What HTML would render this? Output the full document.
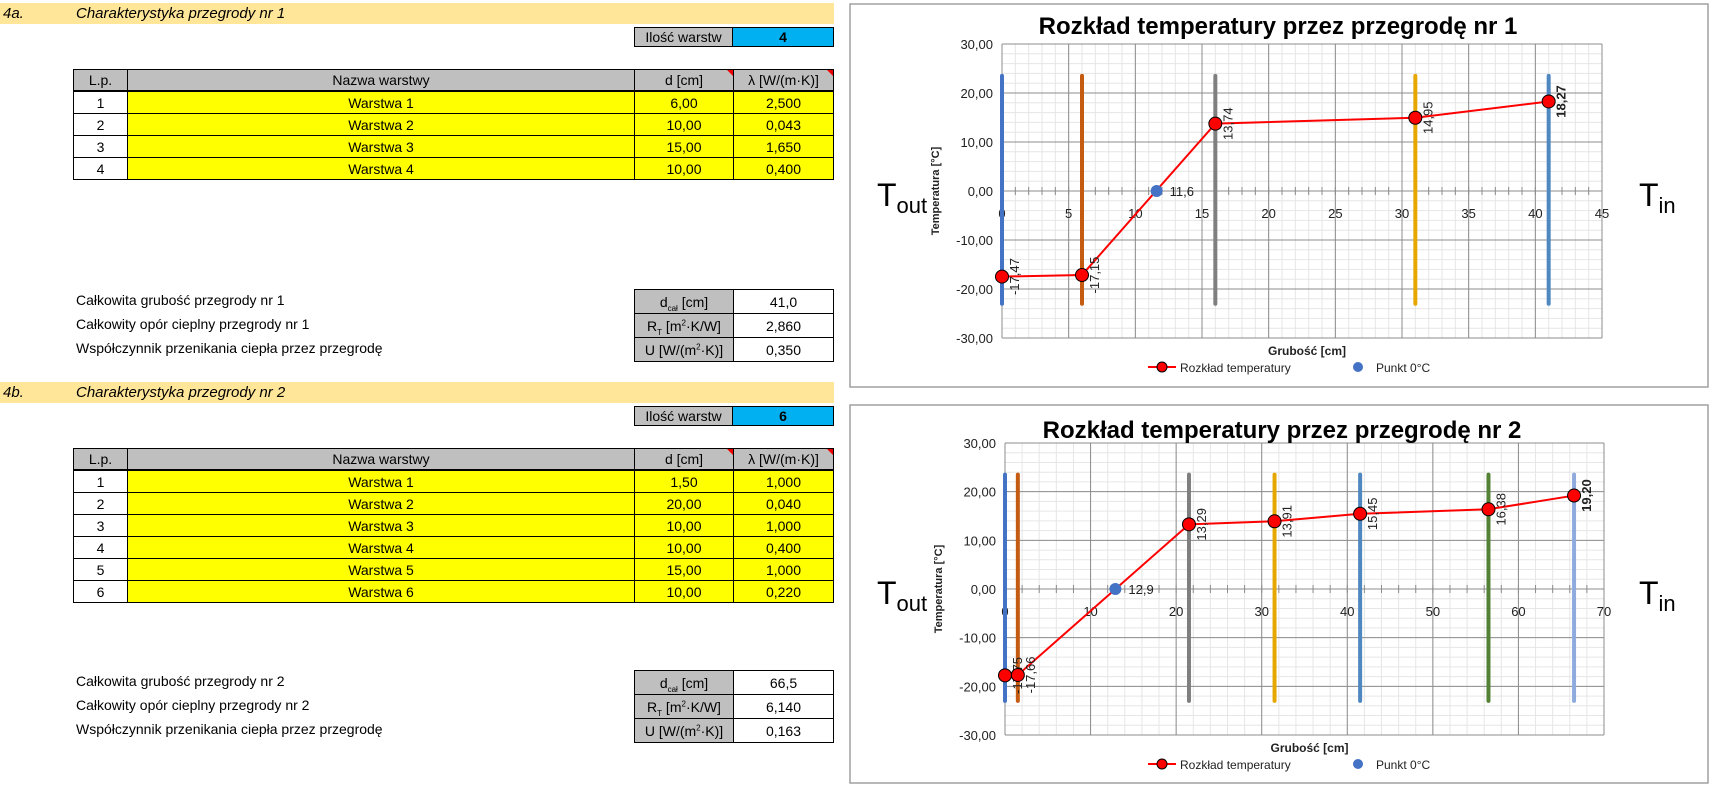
<!DOCTYPE html>
<html><head><meta charset="utf-8">
<style>
body{margin:0;width:1715px;height:787px;position:relative;background:#fff;overflow:hidden;font-family:"Liberation Sans",sans-serif;color:#000}
.a{position:absolute;box-sizing:border-box}
.band{background:#ffe699;left:0;width:834px;font-style:italic;font-size:15px;line-height:21px}
.cell{position:absolute;box-sizing:border-box;border:1px solid #000;text-align:center;font-size:14px;display:flex;align-items:center;justify-content:center}
.g{background:#bfbfbf}.y{background:#ffff00}.b{background:#00b0f0;font-weight:bold}
.lbl{position:absolute;left:76px;font-size:14px}
.tri{position:absolute;right:0;top:0;width:0;height:0;border-top:6px solid #e00;border-left:6px solid transparent}
sub,sup{line-height:0}
svg text{font-family:"Liberation Sans",sans-serif}
</style></head><body>
<div id="left"></div>
<svg id="charts" width="1715" height="787" style="position:absolute;left:0;top:0"></svg>
<script>
// ---- table data ----
const t1Names=["Warstwa 1","Warstwa 2","Warstwa 3","Warstwa 4"];
const t1D=["6,00","10,00","15,00","10,00"];
const t1L=["2,500","0,043","1,650","0,400"];
const t2Names=["Warstwa 1","Warstwa 2","Warstwa 3","Warstwa 4","Warstwa 5","Warstwa 6"];
const t2D=["1,50","20,00","10,00","10,00","15,00","10,00"];
const t2L=["1,000","0,040","1,000","0,400","1,000","0,220"];
const s1Vals=["41,0","2,860","0,350"];
const s2Vals=["66,5","6,140","0,163"];
// ---- chart 1 data ----
const c1X=[0,6,16,31,41];
const c1T=[-17.47,-17.15,13.74,14.95,18.27];
const c1Lbl=["-17,47","-17,15","13,74","14,95","18,27"];
const c1Zero=11.6;
const c1ZeroLbl="11,6";
const c1XTicks=[0,5,10,15,20,25,30,35,40,45];
// ---- chart 2 data ----
const c2X=[0,1.5,21.5,31.5,41.5,56.5,66.5];
const c2T=[-17.75,-17.66,13.29,13.91,15.45,16.38,19.20];
const c2Lbl=["-17,75","-17,66","13,29","13,91","15,45","16,38","19,20"];
const c2Zero=12.9;
const c2ZeroLbl="12,9";
const c2XTicks=[0,10,20,30,40,50,60,70];
const yTicks=[30,20,10,0,-10,-20,-30];
const yTickLbl=["30,00","20,00","10,00","0,00","-10,00","-20,00","-30,00"];

const L=document.getElementById('left');
function cell(x,y,w,h,txt,cls,name){
  const d=document.createElement('div');
  d.className='cell '+(cls||'');
  d.style.left=x+'px';d.style.top=y+'px';d.style.width=w+'px';d.style.height=h+'px';
  d.innerHTML='<span>'+txt+'</span>';
  
  
  L.appendChild(d);return d;
}
const C=[73,127,634,733,834];
function section(top,label,title,count,names,ds,ls,sVals,nr){
  const b=document.createElement('div');b.className='a band';b.style.top=top+'px';b.style.height='21px';
  b.innerHTML='<span style="position:absolute;left:3px">'+label+'</span><span style="position:absolute;left:76px">'+title+'</span>';
  
  
  L.appendChild(b);
  cell(C[2],top+24,C[3]-C[2],20,'Ilość warstw','g','layer-count-label');
  const cc=cell(C[3]-1,top+24,C[4]-C[3]+1,20,String(count),'b','layer-count-value');
  
  const hy=top+66, rh=22;
  cell(C[0],hy,C[1]-C[0]+1,rh,'L.p.','g','header-lp');
  cell(C[1],hy,C[2]-C[1]+1,rh,'Nazwa warstwy','g','header-name');
  cell(C[2],hy,C[3]-C[2]+1,rh,'d [cm]<i class="tri"></i>','g','header-thickness');
  cell(C[3],hy,C[4]-C[3],rh,'λ [W/(m·K)]<i class="tri"></i>','g','header-lambda');
  for(let i=0;i<names.length;i++){
    const y=hy+rh*(i+1);
    cell(C[0],y,C[1]-C[0]+1,rh+1,String(i+1),'','row-number');
    const n=cell(C[1],y,C[2]-C[1]+1,rh+1,names[i],'y','layer-name');
    const d=cell(C[2],y,C[3]-C[2]+1,rh+1,ds[i],'y','layer-thickness');
    const l=cell(C[3],y,C[4]-C[3],rh+1,ls[i],'y','layer-lambda');
  }
}
function summary(top,nr,vals){
  const labels=['Całkowita grubość przegrody nr '+nr,'Całkowity opór cieplny przegrody nr '+nr,'Współczynnik przenikania ciepła przez przegrodę'];
  const units=['d<sub style="font-size:8px">cał</sub> [cm]','R<sub style="font-size:8px">T</sub> [m<sup style="font-size:8px">2</sup>·K/W]','U [W/(m<sup style="font-size:8px">2</sup>·K)]'];
  for(let i=0;i<3;i++){
    const y=top+i*24;
    const t=document.createElement('div');t.className='lbl';t.style.top=(y+3)+'px';t.textContent=labels[i];
    
    
    L.appendChild(t);
    cell(C[2],y,C[3]-C[2]+1,25,units[i],'g','summary-unit');
    cell(C[3],y,C[4]-C[3],25,vals[i],'','summary-value');
  }
}
section(3,'4a.','Charakterystyka przegrody nr 1',4,t1Names,t1D,t1L,s1Vals,1);
summary(289,1,s1Vals);
section(382,'4b.','Charakterystyka przegrody nr 2',6,t2Names,t2D,t2L,s2Vals,2);
summary(670,2,s2Vals);

// ---- charts ----
const NS='http://www.w3.org/2000/svg';
const S=document.getElementById('charts');
function el(tag,attrs,parent,txt){
  const e=document.createElementNS(NS,tag);
  for(const k in attrs)e.setAttribute(k,attrs[k]);
  if(txt!==undefined)e.textContent=txt;
  (parent||S).appendChild(e);return e;
}
function chart(cfg,xs,ts,lbls,zero,zeroLbl,xTicks,colors){
  const g=el('g',{});
  
  
  const {bx,by,bw,bh,px0,px1,py0,py1,xmax,minorX}=cfg;
  const sx=v=>px0+v*(px1-px0)/xmax;
  const sy=v=>py1-(v+30)*(py1-py0)/60;
  const frame=el('rect',{x:bx,y:by,width:bw,height:bh,fill:'#fff',stroke:'#a0a0a0','stroke-width':1.5},g);
  
  
  for(let v=0;v<=xmax;v+=minorX) el('line',{x1:sx(v),x2:sx(v),y1:py0,y2:py1,stroke:'#e6e6e6','stroke-width':1},g);
  for(let v=-30;v<=30;v+=2) el('line',{x1:px0,x2:px1,y1:sy(v),y2:sy(v),stroke:'#e6e6e6','stroke-width':1},g);
  xTicks.forEach(v=>el('line',{x1:sx(v),x2:sx(v),y1:py0,y2:py1,stroke:'#8c8c8c','stroke-width':1},g));
  yTicks.forEach(v=>el('line',{x1:px0,x2:px1,y1:sy(v),y2:sy(v),stroke:'#8c8c8c','stroke-width':1},g));
  for(let v=0;v<=xmax;v+=minorX) el('line',{x1:sx(v),x2:sx(v),y1:sy(0)-4,y2:sy(0)+4,stroke:'#8c8c8c','stroke-width':1},g);
  xTicks.forEach(v=>{const t=el('text',{x:sx(v),y:sy(0)+27,'font-size':13,'text-anchor':'middle',fill:'#222'},g,String(v));
    });
  yTicks.forEach((v,i)=>{const t=el('text',{x:px0-9,y:sy(v)+5,'font-size':13,'text-anchor':'end',fill:'#222'},g,yTickLbl[i]);
    });
  xs.forEach((v,i)=>{const l=el('line',{x1:sx(v),x2:sx(v),y1:sy(23.5),y2:sy(-23),stroke:colors[i],'stroke-width':4,'stroke-linecap':'round'},g);
    });
  const pl=el('polyline',{points:xs.map((v,i)=>sx(v)+','+sy(ts[i])).join(' '),fill:'none',stroke:'#ff0000','stroke-width':2},g);
  
  xs.forEach((v,i)=>{const c=el('circle',{cx:sx(v),cy:sy(ts[i]),r:6.5,fill:'#ff0000',stroke:'#000','stroke-width':1},g);
    
    const lx=sx(v)+17, ly=sy(ts[i]);
    const t=el('text',{x:lx,y:ly,'font-size':13,'text-anchor':'middle','font-weight':i===xs.length-1?'bold':'normal',fill:'#222',transform:'rotate(-90 '+lx+' '+ly+')'},g,lbls[i]);
    
  });
  const z=el('circle',{cx:sx(zero),cy:sy(0),r:6,fill:'#4472c4'},g);
  
  const zl=el('text',{x:sx(zero)+13,y:sy(0)+5,'font-size':13,fill:'#222'},g,zeroLbl);
  
  const tt=el('text',{x:cfg.titleX,y:by+cfg.titleDy,'font-size':24,'font-weight':'bold','text-anchor':'middle'},g,cfg.title);
  
  const ya=px0-63, ym=(py0+py1)/2;
  const yt=el('text',{x:ya,y:ym,'font-size':11,'font-weight':'bold','text-anchor':'middle',fill:'#222',transform:'rotate(-90 '+ya+' '+ym+')'},g,'Temperatura [°C]');
  
  const xt=el('text',{x:(px0+px1)/2+5,y:py1+17,'font-size':12,'font-weight':'bold','text-anchor':'middle',fill:'#222'},g,'Grubość [cm]');
  
  const ly=py1+29;
  const lg=el('g',{},g);
  el('line',{x1:1148,x2:1176,y1:ly,y2:ly,stroke:'#ff0000','stroke-width':2},lg);
  el('circle',{cx:1162,cy:ly,r:5,fill:'#ff0000',stroke:'#000','stroke-width':1},lg);
  el('text',{x:1180,y:ly+5,'font-size':12,fill:'#222'},lg,'Rozkład temperatury');
  el('circle',{cx:1358,cy:ly,r:5,fill:'#4472c4'},lg);
  el('text',{x:1376,y:ly+5,'font-size':12,fill:'#222'},lg,'Punkt 0°C');
  const to=el('text',{x:877,y:sy(0)+15,'font-size':32},g);
  
  el('tspan',{},to,'T');el('tspan',{'font-size':22,dy:7},to,'out');
  const ti=el('text',{x:1639,y:sy(0)+15,'font-size':32},g);
  
  el('tspan',{},ti,'T');el('tspan',{'font-size':22,dy:7},ti,'in');
}
chart({name:'chart-wall-1',bx:850,by:4,bw:858,bh:383,px0:1002,px1:1602,py0:44,py1:338,xmax:45,minorX:1,
  title:'Rozkład temperatury przez przegrodę nr 1',titleX:1278,titleDy:30},
  c1X,c1T,c1Lbl,c1Zero,c1ZeroLbl,c1XTicks,['#4472c4','#c55a11','#7f7f7f','#e6a800','#4f87c0']);
chart({name:'chart-wall-2',bx:850,by:405,bw:858,bh:378,px0:1005,px1:1604,py0:443,py1:735,xmax:70,minorX:2,
  title:'Rozkład temperatury przez przegrodę nr 2',titleX:1282,titleDy:33},
  c2X,c2T,c2Lbl,c2Zero,c2ZeroLbl,c2XTicks,['#4472c4','#c55a11','#7f7f7f','#e6a800','#4f87c0','#548235','#8faadc']);
</script>
</body></html>
